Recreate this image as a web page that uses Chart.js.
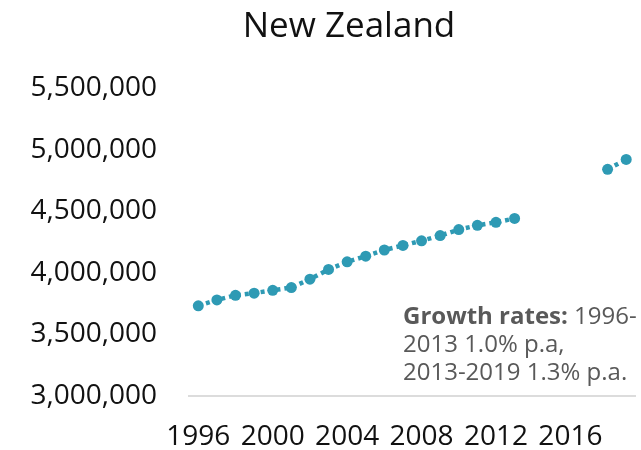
<!DOCTYPE html>
<html>
<head>
<meta charset="utf-8">
<script src="https://cdn.jsdelivr.net/npm/chart.js@4/dist/chart.umd.min.js"></script>
<style>
  html, body { margin: 0; padding: 0; background: #fff; }
  #wrap { width: 641px; height: 450px; }
</style>
</head>
<body>
<div id="wrap"><canvas id="nzChart" width="641" height="450"></canvas></div>
<script>
// Population data (2014-2017 missing)
const years = [1996, 1997, 1998, 1999, 2000, 2001, 2002, 2003, 2004, 2005, 2006, 2007,
  2008, 2009, 2010, 2011, 2012, 2013, 2014, 2015, 2016, 2017, 2018, 2019];
const population = [3732000, 3780000, 3817000, 3835000, 3858000, 3880000, 3948000, 4027000,
  4089000, 4135000, 4185000, 4222000, 4260000, 4302000, 4351000, 4385000, 4410000, 4441000,
  null, null, null, null, 4840000, 4920000];
const xTicks = [1996, 2000, 2004, 2008, 2012, 2016];
const yTicks = [3000000, 3500000, 4000000, 4500000, 5000000, 5500000];

const titleText = "New Zealand";
const noteBold = "Growth rates:";
const noteLines = [" 1996-", "2013 1.0% p.a,", "2013-2019 1.3% p.a."];

const teal = "#2e9ab4";
const font = "'Open Sans', 'Noto Sans', sans-serif";

// title + growth note drawn on top of the chart
const extraText = {
  id: "extraText",
  afterDraw(chart) {
    const ctx = chart.ctx;
    ctx.save();
    ctx.fillStyle = "#111";
    ctx.font = "35px " + font;
    ctx.textAlign = "center";
    ctx.textBaseline = "middle";
    ctx.fillText(titleText, 349, 27);

    ctx.textAlign = "left";
    ctx.textBaseline = "alphabetic";
    ctx.fillStyle = "#595959";
    const x0 = 403;
    ctx.font = "bold 24px " + font;
    ctx.fillText(noteBold, x0, 324);
    const w = ctx.measureText(noteBold).width;
    ctx.font = "24px " + font;
    ctx.fillText(noteLines[0], x0 + w, 324);
    ctx.fillText(noteLines[1], x0, 352);
    ctx.fillText(noteLines[2], x0, 380);
    ctx.restore();
  }
};

const ctx = document.getElementById("nzChart").getContext("2d");
new Chart(ctx, {
  type: "line",
  data: {
    datasets: [
      {
        data: years.map((y, i) => ({ x: y, y: population[i] })),
        borderColor: teal,
        backgroundColor: teal,
        borderWidth: 4.5,
        borderDash: [4, 4],
        pointRadius: 5.5,
        pointBorderWidth: 0,
        pointBackgroundColor: teal,
        spanGaps: false,
        tension: 0,
      },
    ],
  },
  options: {
    responsive: false,
    animation: false,
    layout: { padding: { top: 88, right: 1, left: 0, bottom: 0 } },
    plugins: {
      legend: { display: false },
      title: { display: false },
      tooltip: { enabled: false },
    },
    scales: {
      x: {
        type: "linear",
        min: 1995.5,
        max: 2019.5,
        grid: { display: false, drawTicks: false },
        border: { display: true, color: "#dcdcdc", width: 2 },
        afterBuildTicks: (s) => { s.ticks = xTicks.map((v) => ({ value: v })); },
        afterFit: (s) => { s.height = 54; },
        ticks: {
          color: "#111",
          font: { family: font, size: 28 },
          padding: 24,
          maxRotation: 0,
          autoSkip: false,
          callback: (v) => String(v),
        },
      },
      y: {
        min: 3000000,
        max: 5500000,
        grid: { display: false, drawTicks: false },
        border: { display: false },
        afterBuildTicks: (s) => { s.ticks = yTicks.map((v) => ({ value: v })); },
        afterFit: (s) => { s.width = 189; },
        ticks: {
          color: "#111",
          font: { family: font, size: 28 },
          padding: 32,
          callback: (v) => v.toLocaleString("en-US"),
        },
      },
    },
  },
  plugins: [extraText],
});
</script>
</body>
</html>
